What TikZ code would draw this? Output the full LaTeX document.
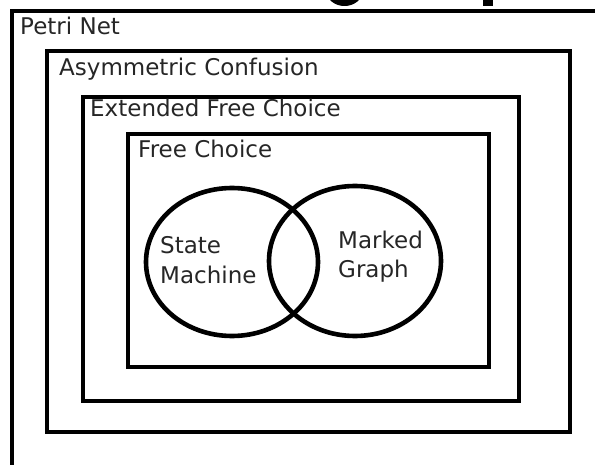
\documentclass[tikz,border=0pt]{standalone}
\usepackage{fontspec}
\setmainfont{DejaVu Sans}
\usepackage{tikz}

\begin{document}
\begin{tikzpicture}[x=1pt, y=-1pt,
  box/.style={line width=3.4pt},
  ring/.style={line width=4.6pt},
  lbl/.style={anchor=base west, inner sep=0pt, text=black!85, font=\fontsize{23}{30}\selectfont},
  lbl2/.style={lbl, anchor=north west, align=left}]
  \useasboundingbox (0,0) rectangle (595,465);
  \clip (0,0) rectangle (595,465);
  % bits of a large title cut off at the top edge
  \fill (344.5,-8) ellipse [x radius=17.5, y radius=14];
  \fill (483,-2) rectangle (493,6);
  % nested classes
  \draw[box] (12,11) rectangle (640,500);
  \draw[box] (47,51) rectangle (570,432);
  \draw[box] (83,97) rectangle (519,401);
  \draw[box] (128,134) rectangle (489,367);
  \node[lbl] (petri) at (20,35) {Petri Net};
  \node[lbl] (asym) at (59,76) {Asymmetric Confusion};
  \node[lbl] (efc) at (90,117) {Extended Free Choice};
  \node[lbl] (fc) at (138,158) {Free Choice};
  % the two subclasses
  \draw[ring] (232,262) ellipse [x radius=86, y radius=74];
  \draw[ring] (355,261) ellipse [x radius=86, y radius=75];
  \node[lbl2] (sm) at (160,236) {State\\Machine};
  \node[lbl2, font=\fontsize{23}{29}\selectfont] (mg) at (338,231) {Marked\\Graph};
\end{tikzpicture}
\end{document}
